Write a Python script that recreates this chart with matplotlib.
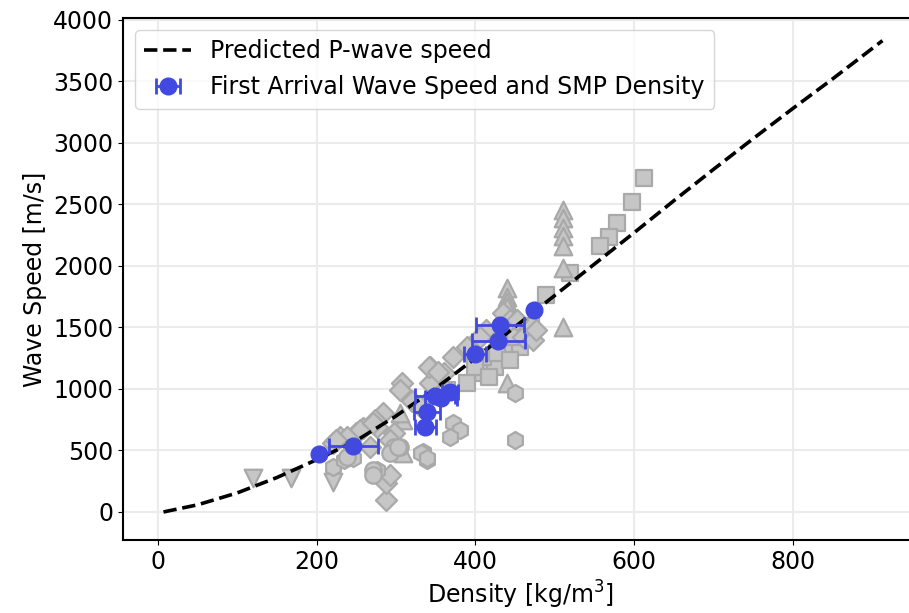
import numpy as np
import matplotlib
matplotlib.use("Agg")
import matplotlib.pyplot as plt

# === DATA ===
# predicted P-wave speed curve
curve_density = [7, 50, 100, 150, 200, 250, 300, 350, 400, 450, 500, 550, 600, 650, 700, 750, 800, 850, 913]
curve_speed = [0, 58, 155, 280, 425, 580, 780, 1005, 1250, 1505, 1760, 2015, 2270, 2530, 2785, 3035, 3280, 3520, 3832]

# first arrival wave speed vs SMP density
fa_density = [203, 246, 337, 339, 349, 357, 368, 400, 429, 431, 474]
fa_speed = [470, 540, 694, 815, 940, 925, 975, 1285, 1393, 1520, 1642]
fa_density_err = [0, 31, 13, 16, 25, 20, 10, 14, 33, 30, 0]

# background literature data, grouped by marker
lit_sq_x = [613, 598, 578, 568, 557, 519, 489, 410, 389, 425, 439, 456, 410, 364, 427, 444, 400, 417, 450, 470]
lit_sq_y = [2713, 2523, 2347, 2233, 2163, 1941, 1764, 1127, 1046, 1181, 1317, 1344, 1262, 992, 1290, 1236, 1180, 1100, 1420, 1510]

lit_tri_x = [510, 510, 510, 510, 510, 510, 510, 440, 440, 440, 440, 440, 309, 305, 309]
lit_tri_y = [2455, 2390, 2310, 2240, 2160, 1985, 1500, 1819, 1751, 1710, 1669, 1046, 748, 802, 477]

lit_vtri_x = [120, 168, 221]
lit_vtri_y = [280, 274, 246]

lit_dia_x = [288, 288, 292, 307, 305, 343, 360, 372, 389, 343, 284, 273, 259, 250, 229, 221, 267, 297, 292, 276,
             435, 444, 460, 473, 477, 452, 414, 406, 341, 353, 255, 238, 225, 271, 320, 330]
lit_dia_y = [98, 233, 300, 1046, 992, 1181, 1127, 1262, 1344, 1046, 802, 748, 680, 640, 612, 558, 531, 640, 585, 694,
             1615, 1561, 1425, 1398, 1480, 1561, 1480, 1425, 1181, 1141, 667, 612, 585, 721, 900, 860]

lit_hex_x = [450, 450, 372, 381, 368, 334, 339, 276, 221, 234, 246, 332, 339]
lit_hex_y = [965, 585, 721, 667, 612, 490, 423, 341, 368, 423, 437, 477, 437]

lit_circ_x = [271, 271, 305, 297, 292, 238, 303]
lit_circ_y = [341, 300, 531, 531, 477, 450, 531]

# === PLOT ===
plt.rcParams['font.family'] = ['DejaVu Sans']
plt.rcParams['font.size'] = 17

fig = plt.figure(figsize=(9.09, 6.13), dpi=100)
ax = fig.add_axes([123 / 909, 73 / 613, (918 - 123) / 909, 522 / 613])

gray = dict(facecolor='#c6c6c6', edgecolor='#a9a9a9', linewidths=1.6, zorder=2)
ax.scatter(lit_sq_x, lit_sq_y, marker='s', s=140, **gray)
ax.scatter(lit_tri_x, lit_tri_y, marker='^', s=160, **gray)
ax.scatter(lit_vtri_x, lit_vtri_y, marker='v', s=160, **gray)
ax.scatter(lit_dia_x, lit_dia_y, marker='D', s=115, **gray)
ax.scatter(lit_hex_x, lit_hex_y, marker='h', s=150, **gray)
ax.scatter(lit_circ_x, lit_circ_y, marker='o', s=140, **gray)

ax.plot(curve_density, curve_speed, '--', color='black', lw=2.6, zorder=3,
        label='Predicted P-wave speed')

ax.errorbar(fa_density, fa_speed, xerr=fa_density_err, fmt='o', color='#4149e0',
            markersize=12, elinewidth=2, capsize=6, capthick=2, zorder=4,
            label='First Arrival Wave Speed and SMP Density')

ax.set_xlim(-44, (918 - 158) / 0.7935)
ax.set_ylim(-228, 4016)
ax.set_xticks([0, 200, 400, 600, 800])
ax.set_yticks(np.arange(0, 4001, 500))
ax.grid(True, color='#ebebeb', lw=1.5, zorder=0)
ax.set_axisbelow(True)
for sp in ax.spines.values():
    sp.set_linewidth(1.5)

ax.set_xlabel('Density [kg/m$^3$]')
ax.set_ylabel('Wave Speed [m/s]')
ax.legend(loc='upper left', fontsize=17, borderaxespad=0.5)

fig.savefig('out.png', dpi=100)
